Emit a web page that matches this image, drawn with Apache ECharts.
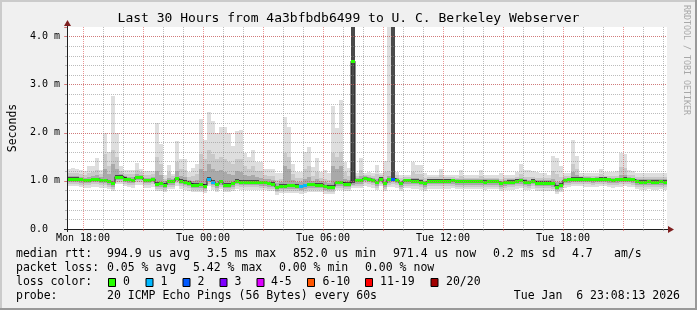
<!DOCTYPE html>
<html><head><meta charset="utf-8">
<script src="https://cdn.jsdelivr.net/npm/echarts@6/dist/echarts.min.js"></script>
<style>html,body{margin:0;padding:0;background:#f0f0f0;}#c{width:697px;height:310px;}</style>
</head><body><div id="c"></div>
<script>
// ---------- data ----------
const titleText = 'Last 30 Hours from 4a3bfbdb6499 to U. C. Berkeley Webserver';
const START_MIN = 17 * 60 + 12;   // first bucket boundary: Mon 17:12
const STEP_MIN = 12;              // bucket length in minutes
const dayNames = ['Mon', 'Tue', 'Wed'];
const yTickUnit = 'm';

// median rtt (ms) per 12-minute bucket
const med = [1.05,1.05,1.05,1.03,1.02,1.02,1.04,1.04,1.02,1.02,
 0.99,0.95,1.09,1.09,1.05,1.03,1.02,1.08,1.08,1.02,
 1.02,1.04,0.94,0.95,0.92,0.99,0.99,1.06,1.00,0.98,
 0.96,0.92,0.92,0.93,0.90,1.05,0.98,0.93,0.99,0.92,
 0.92,0.95,1.00,0.98,0.98,0.98,0.98,0.98,0.97,0.97,
 0.95,0.94,0.87,0.90,0.90,0.91,0.91,0.90,0.89,0.91,
 0.93,0.93,0.92,0.92,0.89,0.88,0.88,0.97,0.97,0.94,
 0.94,3.49,1.01,1.01,1.06,1.04,1.02,0.97,1.05,0.95,
 1.03,1.05,1.02,0.95,1.01,1.01,1.00,1.00,0.98,0.95,
 1.00,1.00,1.00,1.00,1.00,1.00,1.01,0.99,0.99,0.99,
 0.99,0.99,0.99,0.99,0.98,0.99,0.99,0.99,0.95,0.97,
 0.98,0.98,1.00,1.01,0.98,0.97,1.00,0.96,0.96,0.96,
 0.96,0.95,0.88,0.92,1.02,1.03,1.05,1.05,1.05,1.04,
 1.04,1.03,1.04,1.05,1.05,1.03,1.02,1.03,1.04,1.05,
 1.04,1.03,0.99,0.98,0.98,0.99,0.98,0.98,0.99,0.98];
// lost pings (of 20) per bucket
const loss = [0,0,0,0,0,0,0,0,0,0, 0,0,0,0,0,0,0,0,0,0, 0,0,0,0,0,0,0,0,0,0,
 0,0,0,0,0,1,1,0,0,0, 0,0,0,0,0,0,0,0,0,0, 0,0,0,0,0,0,0,0,1,1,
 0,0,0,0,0,0,0,0,0,0, 0,0,0,0,0,0,0,0,0,0, 0,2,0,0,0,0,0,0,0,0,
 0,0,0,0,0,0,0,0,0,0, 0,0,0,0,0,0,0,0,0,0, 0,0,0,0,0,0,0,0,0,0,
 0,0,0,0,0,0,0,0,0,0, 0,0,0,0,0,0,0,0,0,0, 0,0,0,0,0,0,0,0,0,0];
// smoke: outer (min..max) band
const smokeMax = [1.24,1.27,1.25,1.22,1.20,1.32,1.32,1.48,1.23,2.00,
 1.60,2.76,2.00,1.30,1.22,1.23,1.23,1.37,1.25,1.20,
 1.20,1.20,2.20,1.77,1.12,1.33,1.15,1.83,1.46,1.46,
 1.19,1.26,1.36,2.29,1.85,2.44,2.24,2.00,2.13,2.13,
 1.99,1.72,2.03,2.05,1.58,1.50,1.65,1.40,1.40,1.24,
 1.24,1.24,1.16,1.16,2.32,2.13,1.36,1.19,1.19,1.61,
 1.70,1.28,1.47,1.19,1.23,1.16,2.56,2.10,2.69,1.40,
 1.26,4.50,1.16,1.47,1.16,1.19,1.16,1.33,1.16,1.42,
 4.50,4.50,1.19,1.13,1.13,1.13,1.40,1.33,1.33,1.16,
 1.13,1.13,1.13,1.25,1.13,1.13,1.13,1.13,1.23,1.13,
 1.13,1.13,1.13,1.23,1.13,1.13,1.13,1.13,1.16,1.13,
 1.13,1.13,1.18,1.35,1.22,1.22,1.20,1.18,1.16,1.16,
 1.13,1.51,1.47,1.30,1.16,1.16,1.85,1.52,1.16,1.16,
 1.16,1.16,1.16,1.24,1.18,1.18,1.18,1.20,1.59,1.56,
 1.22,1.20,1.16,1.16,1.16,1.16,1.16,1.16,1.16,1.16];
const smokeMin = [0.89,0.89,0.89,0.87,0.86,0.86,0.88,0.88,0.86,0.86,
 0.83,0.79,0.93,0.93,0.89,0.87,0.86,0.92,0.92,0.86,
 0.86,0.88,0.78,0.79,0.76,0.83,0.83,0.90,0.84,0.82,
 0.80,0.76,0.76,0.77,0.74,0.89,0.82,0.77,0.83,0.76,
 0.76,0.79,0.84,0.82,0.82,0.82,0.82,0.82,0.81,0.81,
 0.79,0.78,0.71,0.74,0.74,0.75,0.75,0.74,0.73,0.75,
 0.77,0.77,0.76,0.76,0.73,0.72,0.72,0.81,0.81,0.78,
 0.78,0.86,0.85,0.85,0.90,0.88,0.86,0.81,0.89,0.79,
 0.87,0.88,0.86,0.79,0.85,0.85,0.84,0.84,0.82,0.79,
 0.84,0.84,0.84,0.84,0.84,0.84,0.85,0.83,0.83,0.83,
 0.83,0.83,0.83,0.83,0.82,0.83,0.83,0.83,0.79,0.81,
 0.82,0.82,0.84,0.85,0.82,0.81,0.84,0.80,0.80,0.80,
 0.80,0.79,0.72,0.76,0.86,0.87,0.89,0.89,0.89,0.88,
 0.88,0.87,0.88,0.89,0.89,0.87,0.86,0.87,0.88,0.89,
 0.88,0.87,0.83,0.82,0.82,0.83,0.82,0.82,0.83,0.82];
// second band
const smokeQ3 = [1.16,1.17,1.16,1.14,1.13,1.16,1.18,1.22,1.14,1.55,
 1.30,1.65,1.50,1.20,1.15,1.14,1.14,1.22,1.18,1.13,
 1.13,1.14,1.50,1.35,1.05,1.18,1.10,1.40,1.25,1.22,
 1.09,1.10,1.15,1.55,1.45,1.65,1.55,1.45,1.50,1.45,
 1.40,1.35,1.45,1.45,1.30,1.25,1.30,1.20,1.20,1.12,
 1.10,1.10,1.02,1.04,1.58,1.50,1.15,1.06,1.06,1.25,
 1.30,1.10,1.18,1.06,1.05,1.02,1.58,1.50,1.60,1.18,
 1.10,4.50,1.10,1.22,1.13,1.13,1.11,1.15,1.12,1.18,
 1.20,4.50,1.12,1.06,1.09,1.09,1.18,1.15,1.14,1.06,
 1.08,1.08,1.08,1.12,1.08,1.08,1.08,1.07,1.10,1.07,
 1.07,1.07,1.07,1.10,1.07,1.07,1.07,1.07,1.05,1.06,
 1.07,1.07,1.09,1.15,1.09,1.08,1.09,1.06,1.06,1.06,
 1.06,1.20,1.15,1.08,1.10,1.10,1.35,1.25,1.11,1.11,
 1.11,1.10,1.11,1.14,1.11,1.11,1.10,1.11,1.28,1.26,
 1.13,1.12,1.08,1.08,1.08,1.08,1.08,1.08,1.08,1.08];
const smokeQ1 = [0.94,0.94,0.94,0.92,0.91,0.91,0.93,0.93,0.91,0.91,
 0.88,0.84,0.98,0.98,0.94,0.92,0.91,0.97,0.97,0.91,
 0.91,0.93,0.83,0.84,0.81,0.88,0.88,0.95,0.89,0.87,
 0.85,0.81,0.81,0.82,0.79,0.94,0.87,0.82,0.88,0.81,
 0.81,0.84,0.89,0.87,0.87,0.87,0.87,0.87,0.86,0.86,
 0.84,0.83,0.76,0.79,0.79,0.80,0.80,0.79,0.78,0.80,
 0.82,0.82,0.81,0.81,0.78,0.77,0.77,0.86,0.86,0.83,
 0.83,0.89,0.90,0.90,0.95,0.93,0.91,0.86,0.94,0.84,
 0.92,0.93,0.91,0.84,0.90,0.90,0.89,0.89,0.87,0.84,
 0.89,0.89,0.89,0.89,0.89,0.89,0.90,0.88,0.88,0.88,
 0.88,0.88,0.88,0.88,0.87,0.88,0.88,0.88,0.84,0.86,
 0.87,0.87,0.89,0.90,0.87,0.86,0.89,0.85,0.85,0.85,
 0.85,0.84,0.77,0.81,0.91,0.92,0.94,0.94,0.94,0.93,
 0.93,0.92,0.93,0.94,0.94,0.92,0.91,0.92,0.93,0.94,
 0.93,0.92,0.88,0.87,0.87,0.88,0.87,0.87,0.88,0.87];
// third band
const smokeD3 = [1.10,1.10,1.10,1.08,1.07,1.08,1.10,1.12,1.08,1.25,
 1.15,1.35,1.25,1.14,1.10,1.08,1.08,1.14,1.13,1.07,
 1.07,1.09,1.20,1.12,0.99,1.07,1.05,1.20,1.10,1.08,
 1.02,1.00,1.02,1.25,1.20,1.35,1.25,1.20,1.22,1.18,
 1.15,1.12,1.20,1.18,1.12,1.10,1.12,1.08,1.07,1.05,
 1.03,1.02,0.95,0.97,1.30,1.25,1.02,0.98,0.97,1.05,
 1.08,1.00,1.03,0.99,0.97,0.95,1.30,1.25,1.30,1.05,
 1.02,4.50,1.06,1.10,1.10,1.09,1.07,1.04,1.09,1.04,
 1.10,4.50,1.07,1.00,1.05,1.05,1.07,1.06,1.04,1.00,
 1.04,1.04,1.04,1.05,1.04,1.04,1.05,1.03,1.04,1.03,
 1.03,1.03,1.03,1.04,1.03,1.03,1.03,1.03,1.00,1.02,
 1.03,1.03,1.04,1.06,1.03,1.02,1.04,1.01,1.01,1.01,
 1.01,1.04,0.98,0.98,1.06,1.07,1.18,1.13,1.08,1.08,
 1.08,1.07,1.08,1.09,1.08,1.07,1.06,1.07,1.13,1.13,
 1.08,1.07,1.03,1.03,1.03,1.03,1.03,1.03,1.03,1.03];
const smokeD1 = [0.98,0.98,0.98,0.96,0.95,0.95,0.97,0.97,0.95,0.95,
 0.92,0.88,1.02,1.02,0.98,0.96,0.95,1.01,1.01,0.95,
 0.95,0.97,0.87,0.88,0.85,0.92,0.92,0.99,0.93,0.91,
 0.89,0.85,0.85,0.86,0.83,0.98,0.91,0.86,0.92,0.85,
 0.85,0.88,0.93,0.91,0.91,0.91,0.91,0.91,0.90,0.90,
 0.88,0.87,0.80,0.83,0.83,0.84,0.84,0.83,0.82,0.84,
 0.86,0.86,0.85,0.85,0.82,0.81,0.81,0.90,0.90,0.87,
 0.87,0.92,0.94,0.94,0.99,0.97,0.95,0.90,0.98,0.88,
 0.96,0.97,0.95,0.88,0.94,0.94,0.93,0.93,0.91,0.88,
 0.93,0.93,0.93,0.93,0.93,0.93,0.94,0.92,0.92,0.92,
 0.92,0.92,0.92,0.92,0.91,0.92,0.92,0.92,0.88,0.90,
 0.91,0.91,0.93,0.94,0.91,0.90,0.93,0.89,0.89,0.89,
 0.89,0.88,0.81,0.85,0.95,0.96,0.98,0.98,0.98,0.97,
 0.97,0.96,0.97,0.98,0.98,0.96,0.95,0.96,0.97,0.98,
 0.97,0.96,0.92,0.91,0.91,0.92,0.91,0.91,0.92,0.91];
// innermost band
const smokeE3 = [1.08,1.08,1.08,1.06,1.05,1.05,1.07,1.07,1.05,1.05,
 1.02,0.98,1.12,1.12,1.08,1.06,1.05,1.11,1.11,1.05,
 1.05,1.07,0.97,0.98,0.95,1.02,1.02,1.09,1.03,1.01,
 0.99,0.95,0.95,0.96,0.93,1.08,1.01,0.96,1.02,0.95,
 0.95,0.98,1.03,1.01,1.01,1.01,1.01,1.01,1.00,1.00,
 0.98,0.97,0.90,0.93,0.93,0.94,0.94,0.93,0.92,0.94,
 0.96,0.96,0.95,0.95,0.92,0.91,0.91,1.00,1.00,0.97,
 0.97,4.50,1.04,1.04,1.09,1.07,1.05,1.00,1.08,0.98,
 1.06,4.50,1.05,0.98,1.04,1.04,1.03,1.03,1.01,0.98,
 1.03,1.03,1.03,1.03,1.03,1.03,1.04,1.02,1.02,1.02,
 1.02,1.02,1.02,1.02,1.01,1.02,1.02,1.02,0.98,1.00,
 1.01,1.01,1.03,1.04,1.01,1.00,1.03,0.99,0.99,0.99,
 0.99,0.98,0.91,0.95,1.05,1.06,1.08,1.08,1.08,1.07,
 1.07,1.06,1.07,1.08,1.08,1.06,1.05,1.06,1.07,1.08,
 1.07,1.06,1.02,1.01,1.01,1.02,1.01,1.01,1.02,1.01];
const smokeE1 = [1.02,1.02,1.02,1.00,0.99,0.99,1.01,1.01,0.99,0.99,
 0.96,0.92,1.06,1.06,1.02,1.00,0.99,1.05,1.05,0.99,
 0.99,1.01,0.91,0.92,0.89,0.96,0.96,1.03,0.97,0.95,
 0.93,0.89,0.89,0.90,0.87,1.02,0.95,0.90,0.96,0.89,
 0.89,0.92,0.97,0.95,0.95,0.95,0.95,0.95,0.94,0.94,
 0.92,0.91,0.84,0.87,0.87,0.88,0.88,0.87,0.86,0.88,
 0.90,0.90,0.89,0.89,0.86,0.85,0.85,0.94,0.94,0.91,
 0.91,0.95,0.98,0.98,1.03,1.01,0.99,0.94,1.02,0.92,
 1.00,1.00,0.99,0.92,0.98,0.98,0.97,0.97,0.95,0.92,
 0.97,0.97,0.97,0.97,0.97,0.97,0.98,0.96,0.96,0.96,
 0.96,0.96,0.96,0.96,0.95,0.96,0.96,0.96,0.92,0.94,
 0.95,0.95,0.97,0.98,0.95,0.94,0.97,0.93,0.93,0.93,
 0.93,0.92,0.85,0.89,0.99,1.00,1.02,1.02,1.02,1.01,
 1.01,1.00,1.01,1.02,1.02,1.00,0.99,1.00,1.01,1.02,
 1.01,1.00,0.96,0.95,0.95,0.96,0.95,0.95,0.96,0.95];

// legend texts
const rttLegend = ['median rtt:', '994.9 us avg', '3.5 ms max', '852.0 us min', '971.4 us now', '0.2 ms sd', '4.7', 'am/s'];
const lossLegend = ['packet loss:', '0.05 % avg', '5.42 % max', '0.00 % min', '0.00 % now'];
const lossColorTitle = 'loss color:';
const lossLabels = ['0', '1', '2', '3', '4-5', '6-10', '11-19', '20/20'];
const lossColors = ['#26ff00', '#00b8ff', '#0059ff', '#7e00ff', '#dd00ff', '#ff5500', '#ff0000', '#a10000'];
const probeLegend = ['probe:', '20 ICMP Echo Pings (56 Bytes) every 60s'];
const stampText = 'Tue Jan  6 23:08:13 2026';
const sideText = 'RRDTOOL / TOBI OETIKER';

// ---------- layout ----------
const W = 697, H = 310;
const G = {left: 67, top: 27, width: 600, height: 202};
const mono = '"DejaVu Sans Mono", monospace';
const rttX = [16, 107, 207, 293, 393, 493, 572, 614];
const lossX = [16, 107, 193, 279, 365];
const boxX = [108, 145.5, 182.5, 219.5, 256.5, 307, 365, 430.5];
const boxLabelX = [123, 160.5, 197.5, 234.5, 271, 322.5, 380, 446];
const probeX = [16, 107];
const rowY = [254.5, 268.5, 282.5, 296.5];

const N = med.length;
const cats = [];
for (let k = 0; k <= N; k++) {
  const m = START_MIN + k * STEP_MIN;
  const d = Math.floor(m / 1440), hh = Math.floor((m % 1440) / 60), mm = m % 60;
  cats.push(dayNames[d] + ' ' + String(hh).padStart(2, '0') + ':' + String(mm).padStart(2, '0'));
}
const minuteOf = k => START_MIN + k * STEP_MIN;
const YMAX = 4.2;

function lossClass(n) {
  if (n <= 3) return n;
  if (n <= 5) return 4;
  if (n <= 10) return 5;
  if (n <= 19) return 6;
  return 7;
}

const smokeRows = med.map((_, i) => [i, smokeMin[i], smokeQ1[i], smokeD1[i], smokeE1[i], smokeE3[i], smokeD3[i], smokeQ3[i], smokeMax[i]]);
const medRows = med.map((v, i) => [i, v, loss[i]]);
const shades = ['#dedede', '#c9c9c9', '#a9a9a9', '#4a4a4a'];

function renderSmoke(params, api) {
  const i = api.value(0);
  const xa = api.coord([i, 0])[0], xb = api.coord([i + 1, 0])[0];
  const children = [];
  for (let b = 0; b < 4; b++) {
    const lo = Math.min(api.value(1 + b), YMAX), hi = Math.min(api.value(8 - b), YMAX);
    const yt = Math.round(api.coord([i, hi])[1]), yb = Math.round(api.coord([i, lo])[1]);
    children.push({type: 'rect', shape: {x: xa, y: yt, width: xb - xa, height: yb - yt}, style: {fill: shades[b]}});
  }
  return {type: 'group', children};
}
function renderMed(params, api) {
  const i = api.value(0), v = api.value(1), n = api.value(2);
  const xa = api.coord([i, 0])[0], xb = api.coord([i + 1, 0])[0];
  const c = Math.round(api.coord([i, v])[1]);
  return {type: 'rect', shape: {x: xa, y: c - 1, width: xb - xa, height: 3}, style: {fill: lossColors[lossClass(n)]}};
}

const gridGrey = 'rgba(143,143,143,0.6)';
const gridRed = 'rgba(222,80,80,0.6)';
const isMinorHour = i => minuteOf(i) % 60 === 0 && minuteOf(i) % 180 !== 0;

const graphics = [
  {type: 'rect', shape: {x: 0, y: 0, width: W, height: 2}, style: {fill: '#cbcbcb'}},
  {type: 'rect', shape: {x: 0, y: 0, width: 2, height: H}, style: {fill: '#cbcbcb'}},
  {type: 'rect', shape: {x: 0, y: H - 2, width: W, height: 2}, style: {fill: '#999999'}},
  {type: 'rect', shape: {x: W - 2, y: 0, width: 2, height: H}, style: {fill: '#999999'}},
  // axis extensions and arrows
  {type: 'line', shape: {x1: G.left + 0.5, y1: G.top + G.height, x2: G.left + 0.5, y2: G.top + G.height + 3}, style: {stroke: '#1f1f1f', lineWidth: 1}, z: 20},
  {type: 'line', shape: {x1: G.left - 3, y1: G.top + G.height + 0.5, x2: G.left, y2: G.top + G.height + 0.5}, style: {stroke: '#1f1f1f', lineWidth: 1}, z: 20},
  {type: 'line', shape: {x1: G.left + 0.5, y1: G.top, x2: G.left + 0.5, y2: G.top - 2}, style: {stroke: '#1f1f1f', lineWidth: 1}, z: 20},
  {type: 'polygon', shape: {points: [[G.left - 3, G.top - 1], [G.left + 4, G.top - 1], [G.left + 0.5, G.top - 7]]}, style: {fill: '#7f1f1f'}, z: 20},
  {type: 'line', shape: {x1: G.left + G.width, y1: G.top + G.height + 0.5, x2: G.left + G.width + 2, y2: G.top + G.height + 0.5}, style: {stroke: '#1f1f1f', lineWidth: 1}, z: 20},
  {type: 'polygon', shape: {points: [[G.left + G.width + 1, G.top + G.height - 3], [G.left + G.width + 1, G.top + G.height + 4], [G.left + G.width + 7, G.top + G.height + 0.5]]}, style: {fill: '#7f1f1f'}, z: 20},
  {type: 'text', x: 686.5, y: 5, rotation: -Math.PI / 2, style: {text: sideText, font: '8.3px ' + mono, fill: '#a8a8a8', textAlign: 'left', textVerticalAlign: 'middle'}}
];
function addText(txt, x, y, align) {
  graphics.push({type: 'text', x: x, y: y, style: {text: txt, font: '11.5px ' + mono, fill: '#000', textAlign: align || 'left', textVerticalAlign: 'middle'}});
}
rttLegend.forEach((t, k) => addText(t, rttX[k], rowY[0]));
lossLegend.forEach((t, k) => addText(t, lossX[k], rowY[1]));
addText(lossColorTitle, 16, rowY[2]);
lossLabels.forEach((t, k) => {
  graphics.push({type: 'rect', shape: {x: boxX[k] + 0.5, y: rowY[2] - 4, width: 7, height: 8}, style: {fill: lossColors[k], stroke: '#000', lineWidth: 1}});
  addText(t, boxLabelX[k], rowY[2]);
});
probeLegend.forEach((t, k) => addText(t, probeX[k], rowY[3]));
addText(stampText, 680, rowY[3], 'right');

const chart = echarts.init(document.getElementById('c'), null, {renderer: 'canvas'});
chart.setOption({
  animation: false,
  backgroundColor: '#f0f0f0',
  title: {text: titleText, left: 'center', top: 12, padding: 0,
    textStyle: {fontFamily: mono, fontSize: 13, fontWeight: 'normal', color: '#000'}},
  grid: {left: G.left, top: G.top, width: G.width, height: G.height, show: true, backgroundColor: '#ffffff', borderWidth: 0,
    containLabel: false, outerBoundsMode: 'none'},
  xAxis: [
    {type: 'category', data: cats, boundaryGap: false, position: 'bottom', offset: 0, z: 10,
      axisLine: {show: true, lineStyle: {color: '#1f1f1f', width: 1}},
      axisTick: {show: true, length: 2, interval: isMinorHour, lineStyle: {color: gridGrey}},
      axisLabel: {show: false},
      splitLine: {show: true, interval: isMinorHour, lineStyle: {color: gridGrey, type: [1, 1], width: 1}}},
    {type: 'category', data: cats, boundaryGap: false, position: 'bottom', offset: 0, z: 10,
      axisLine: {show: false},
      axisTick: {show: true, length: 2, interval: i => minuteOf(i) % 180 === 0, lineStyle: {color: gridRed}},
      axisLabel: {show: true, interval: i => minuteOf(i) % 360 === 0, margin: 4, fontFamily: mono, fontSize: 10, color: '#000'},
      splitLine: {show: true, interval: i => minuteOf(i) % 180 === 0, lineStyle: {color: gridRed, type: [1, 1], width: 1}}}
  ],
  yAxis: [
    {type: 'value', min: 0, max: YMAX, interval: 1, position: 'left', offset: 0, z: 10,
      name: 'Seconds', nameLocation: 'middle', nameRotate: 90, nameGap: 48,
      nameTextStyle: {fontFamily: mono, fontSize: 11.5, color: '#000'},
      axisLine: {show: true, lineStyle: {color: '#1f1f1f', width: 1}},
      axisTick: {show: true, length: 3, lineStyle: {color: gridRed}},
      axisLabel: {margin: 7, fontFamily: mono, fontSize: 10, color: '#000',
        formatter: v => (Math.abs(v - Math.round(v)) > 1e-6) ? '' : (v === 0 ? '0.0  ' : v.toFixed(1) + ' ' + yTickUnit)},
      splitLine: {show: true, showMinLine: false, showMaxLine: false, lineStyle: {color: gridRed, type: [1, 1], width: 1}}},
    {type: 'value', min: 0, max: YMAX, interval: 0.2, position: 'left', offset: 0, z: 9,
      axisLine: {show: false},
      axisTick: {show: true, length: 2, lineStyle: {color: gridGrey}},
      axisLabel: {show: false},
      splitLine: {show: true, showMinLine: false, showMaxLine: false, lineStyle: {color: gridGrey, type: [1, 1], width: 1}}}
  ],
  series: [
    {type: 'custom', name: 'smoke', xAxisIndex: 0, yAxisIndex: 0, clip: true, z: 2, silent: true,
      renderItem: renderSmoke, encode: {x: 0, y: [1, 2, 3, 4, 5, 6, 7, 8]}, data: smokeRows},
    {type: 'line', name: 'median', xAxisIndex: 0, yAxisIndex: 0, step: 'end', symbol: 'none', z: 3, silent: true,
      lineStyle: {color: '#202020', width: 1}, data: med.concat([med[N - 1]])},
    {type: 'custom', name: 'loss', xAxisIndex: 0, yAxisIndex: 0, clip: true, z: 4, silent: true,
      renderItem: renderMed, encode: {x: 0, y: 1}, data: medRows}
  ],
  graphic: graphics
});
</script>
</body></html>
